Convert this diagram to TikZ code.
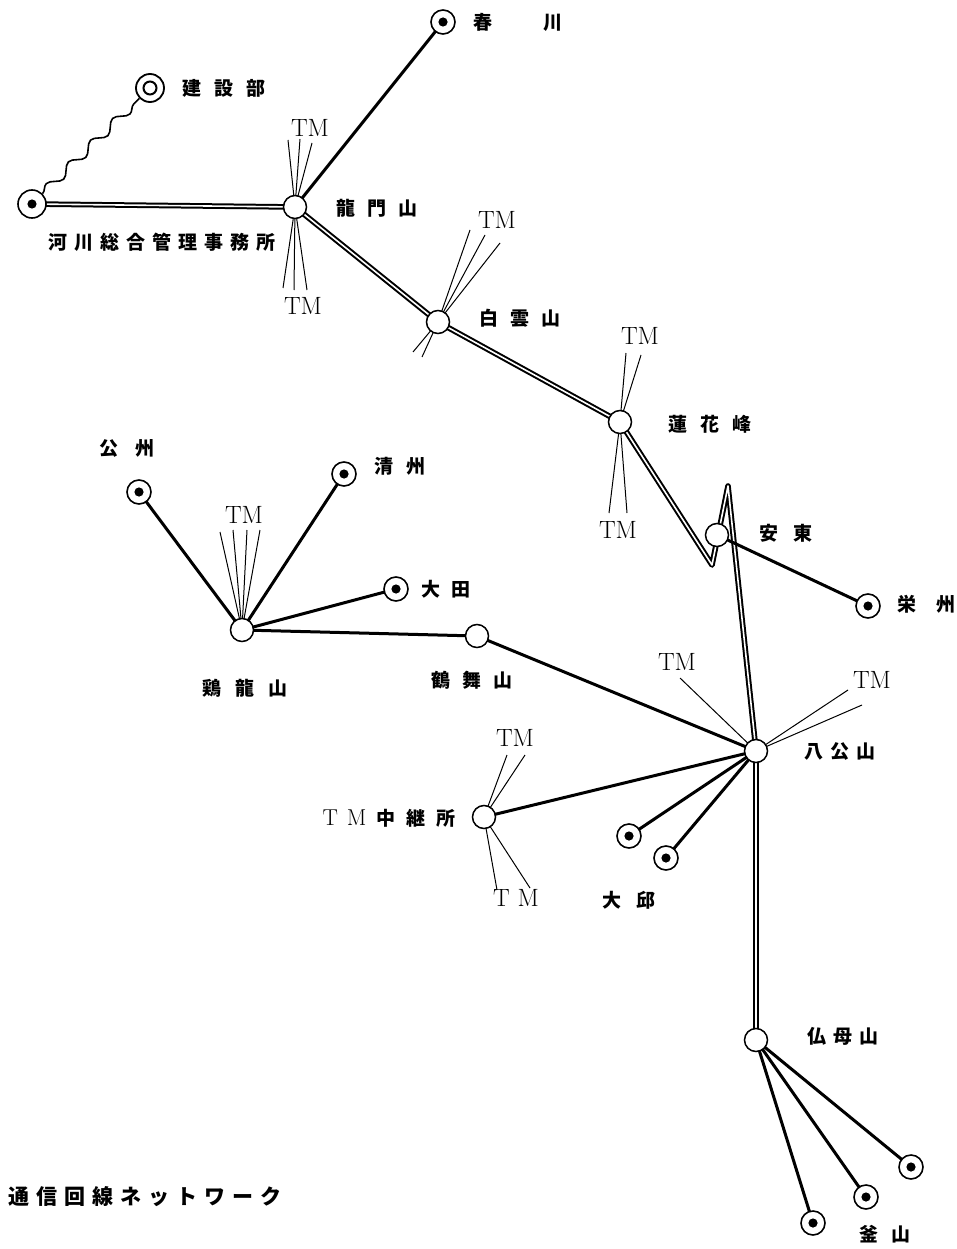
\documentclass[tikz,border=0pt]{standalone}
\usepackage{fontspec}
\newfontfamily\cjk{Noto Sans CJK JP}
\usetikzlibrary{decorations.pathmorphing}
\pgfdeclarelayer{back}
\pgfdeclarelayer{bg}
\pgfsetlayers{back,bg,main}
\ExplSyntaxOn
\NewDocumentCommand\kspaced{mm}{\tl_map_inline:nn{#2}{##1\hskip #1\relax}\unskip}
\ExplSyntaxOff
\tikzset{
  stn/.style={circle,draw,fill=white,line width=1.5pt,minimum size=23pt,inner sep=0pt},
  term/.style={circle,draw,fill=white,line width=1.6pt,minimum size=24pt,inner sep=0pt,
    path picture={\fill[black] (path picture bounding box.center) circle (4.6pt);}},
  hq/.style={circle,draw,fill=white,line width=1.8pt,minimum size=28pt,inner sep=0pt,
    path picture={\draw[black,line width=2pt] (path picture bounding box.center) circle (6.5pt);}},
  trunk/.style={draw=black,line width=2pt,double=white,double distance=1.6pt,line join=round},
  br/.style={line width=3pt},
  tml/.style={line width=1pt},
  wave/.style={line width=1.6pt,decorate,decoration={snake,amplitude=4.5pt,segment length=31pt}},
  lbl/.style={font=\cjk\bfseries\fontsize{19}{19}\selectfont,inner sep=0pt},
  tm/.style={font=\fontsize{25}{25}\selectfont,inner sep=0pt},
}
\begin{document}
\begin{tikzpicture}[x=1pt,y=1pt]
\begin{pgfonlayer}{back}
\fill[white] (0,0) rectangle (957,-1249);
\end{pgfonlayer}
\useasboundingbox (0,0) rectangle (957,-1249);
% stations
\node[term,minimum size=28pt] (river) at (32,-204) {};
\node[hq] (kensetsu) at (150,-88) {};
\node[term] (chuncheon) at (443,-22) {};
\node[stn] (ryumon) at (295,-207) {};
\node[stn] (hakuun) at (438,-322) {};
\node[stn] (renge) at (620,-422) {};
\node[stn] (andong) at (717,-535) {};
\coordinate (z1) at (712,-565);
\coordinate (z2) at (728,-486);
\node[term] (eishu) at (868,-606) {};
\node[stn] (hakko) at (756,-751) {};
\node[term] (kongju) at (139,-492) {};
\node[term] (cheongju) at (344,-474) {};
\node[term] (daejeon) at (396,-589) {};
\node[stn] (keiryu) at (242,-630) {};
\node[stn] (kakubu) at (477,-636) {};
\node[stn] (tmrelay) at (484,-817) {};
\node[term] (daegu1) at (629,-836) {};
\node[term] (daegu2) at (666,-858) {};
\node[stn] (butsubo) at (756,-1040) {};
\node[term] (busan1) at (911,-1167) {};
\node[term] (busan2) at (866,-1197) {};
\node[term] (busan3) at (813,-1223) {};
% TM fan ends
\coordinate (r1) at (288,-140); \coordinate (r2) at (300,-139); \coordinate (r3) at (312,-143);
\coordinate (r4) at (283,-288); \coordinate (r5) at (294,-290); \coordinate (r6) at (307,-290);
\coordinate (h1) at (470,-230); \coordinate (h2) at (485,-235); \coordinate (h3) at (500,-243);
\coordinate (h4) at (413,-352); \coordinate (h5) at (422,-357);
\coordinate (g1) at (626,-353); \coordinate (g2) at (641,-355);
\coordinate (g3) at (609,-513); \coordinate (g4) at (627,-513);
\coordinate (k1) at (220,-532); \coordinate (k2) at (233,-530); \coordinate (k3) at (247,-530); \coordinate (k4) at (260,-530);
\coordinate (p1) at (680,-678); \coordinate (p2) at (848,-690); \coordinate (p3) at (862,-705);
\coordinate (t1) at (507,-755); \coordinate (t2) at (525,-755);
\coordinate (t3) at (497,-890); \coordinate (t4) at (530,-888);
\begin{pgfonlayer}{bg}
\draw[trunk] (river.center) -- (ryumon.center) -- (hakuun.center) -- (renge.center) -- (z1) -- (z2) -- (hakko.center) -- (butsubo.center);
\draw[wave] (river) -- (kensetsu);
\draw[br] (ryumon.center) -- (chuncheon.center);
\draw[br] (andong.center) -- (eishu.center);
\draw[br] (keiryu.center) -- (kongju.center);
\draw[br] (keiryu.center) -- (cheongju.center);
\draw[br] (keiryu.center) -- (daejeon.center);
\draw[br] (keiryu.center) -- (kakubu.center);
\draw[br] (kakubu.center) -- (hakko.center);
\draw[br] (tmrelay.center) -- (hakko.center);
\draw[br] (hakko.center) -- (daegu1.center);
\draw[br] (hakko.center) -- (daegu2.center);
\draw[br] (butsubo.center) -- (busan1.center);
\draw[br] (butsubo.center) -- (busan2.center);
\draw[br] (butsubo.center) -- (busan3.center);
\foreach \e in {r1,r2,r3,r4,r5,r6} \draw[tml] (ryumon.center) -- (\e);
\foreach \e in {h1,h2,h3,h4,h5} \draw[tml] (hakuun.center) -- (\e);
\foreach \e in {g1,g2,g3,g4} \draw[tml] (renge.center) -- (\e);
\foreach \e in {k1,k2,k3,k4} \draw[tml] (keiryu.center) -- (\e);
\foreach \e in {p1,p2,p3} \draw[tml] (hakko.center) -- (\e);
\foreach \e in {t1,t2,t3,t4} \draw[tml] (tmrelay.center) -- (\e);
\end{pgfonlayer}
% labels
\node[lbl] (lchun) at (518,-22) {\kspaced{52pt}{春川}};
\node[lbl] (lken) at (224,-88) {\kspaced{13pt}{建設部}};
\node[lbl] (lriver) at (162,-242) {\kspaced{7pt}{河川総合管理事務所}};
\node[lbl] (lryu) at (377,-208) {\kspaced{12pt}{龍門山}};
\node[tm] (tmr1) at (310,-128) {TM};
\node[tm] (tmr2) at (303,-306) {TM};
\node[lbl] (lhak) at (520,-318) {\kspaced{12pt}{白雲山}};
\node[tm] (tmh) at (497,-220) {TM};
\node[lbl] (lren) at (710,-424) {\kspaced{13pt}{蓮花峰}};
\node[tm] (tmg1) at (640,-336) {TM};
\node[tm] (tmg2) at (618,-530) {TM};
\node[lbl] (land) at (786,-533) {\kspaced{15pt}{安東}};
\node[lbl] (leis) at (926,-604) {\kspaced{20pt}{栄州}};
\node[lbl] (lkon) at (127,-448) {\kspaced{18pt}{公州}};
\node[lbl] (lche) at (400,-466) {\kspaced{13pt}{清州}};
\node[tm] (tmk) at (244,-515) {TM};
\node[lbl] (ldae) at (446,-589) {\kspaced{11pt}{大田}};
\node[lbl] (lkei) at (245,-688) {\kspaced{14pt}{鶏龍山}};
\node[lbl] (lkak) at (472,-680) {\kspaced{12pt}{鶴舞山}};
\node[tm] (tmp1) at (677,-662) {TM};
\node[tm] (tmp2) at (872,-680) {TM};
\node[lbl] (lhakko) at (840,-752) {\kspaced{7pt}{八公山}};
\node[tm] (tmt1) at (515,-738) {TM};
\node[tm] (tmt2) at (516,-898) {T\hspace{8pt}M};
\node[lbl] (lrelay) at (389,-818) {{\rmfamily\mdseries\fontsize{23}{23}\selectfont T\hspace{9pt}M}\hspace{10pt}\kspaced{11pt}{中継所}};
\node[lbl] (ldaegu) at (629,-900) {\kspaced{15pt}{大邱}};
\node[lbl] (lbut) at (843,-1036) {\kspaced{7pt}{仏母山}};
\node[lbl] (lbusan) at (885,-1234) {\kspaced{13pt}{釜山}};
\node[lbl,font=\cjk\bfseries\fontsize{21}{21}\selectfont,anchor=west] (title) at (8,-1197) {\kspaced{7pt}{通信回線ネットワーク}};
\end{tikzpicture}
\end{document}
